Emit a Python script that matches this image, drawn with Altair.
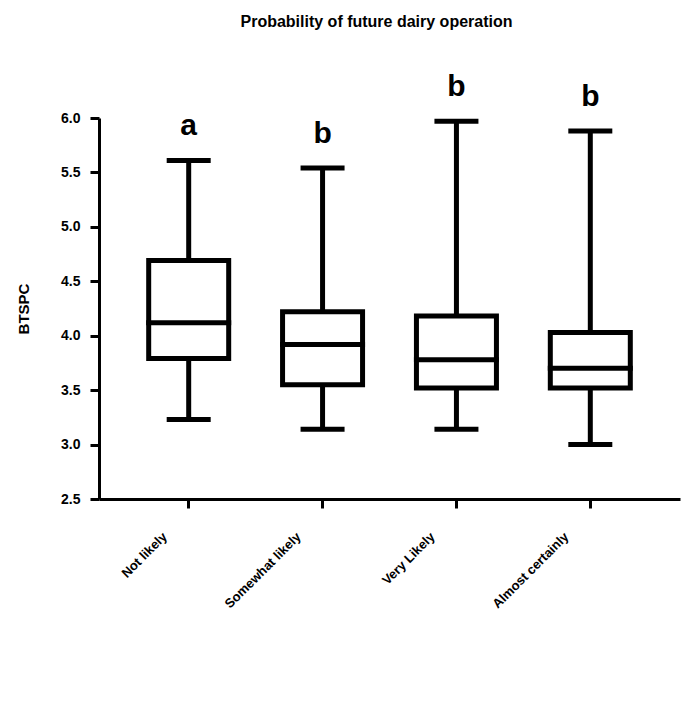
import altair as alt
import pandas as pd

categories = ["Not likely", "Somewhat likely", "Very Likely", "Almost certainly"]
lower = [3.23, 3.14, 3.14, 3.00]
q1 = [3.79, 3.55, 3.52, 3.52]
median = [4.12, 3.92, 3.78, 3.70]
q3 = [4.69, 4.22, 4.18, 4.03]
upper = [5.61, 5.54, 5.97, 5.88]
letters = ["a", "b", "b", "b"]
y_ticks = [2.5, 3.0, 3.5, 4.0, 4.5, 5.0, 5.5, 6.0]

df = pd.DataFrame({
    "cat": categories, "lower": lower, "q1": q1, "median": median,
    "q3": q3, "upper": upper, "letter": letters,
})

FONT = "Liberation Sans"

x = alt.X("cat:N", sort=categories, title=None,
          scale=alt.Scale(paddingInner=0, paddingOuter=0.17),
          axis=alt.Axis(labelAngle=-45, labelFontSize=13, labelPadding=22,
                        labelOffset=-28))
yscale = alt.Scale(domain=[2.5, 6.0], nice=False, zero=False)
yaxis = alt.Axis(values=y_ticks, format=".1f", title="BTSPC", titleFontSize=15,
                 titlePadding=29, labelFontSize=14, labelPadding=10)

base = alt.Chart(df)

whisk_lo = base.mark_rule(color="black", strokeWidth=5).encode(
    x=x, y=alt.Y("lower:Q", scale=yscale, axis=yaxis), y2="q1:Q")
whisk_hi = base.mark_rule(color="black", strokeWidth=5).encode(
    x=x, y=alt.Y("q3:Q", scale=yscale), y2="upper:Q")
box = base.mark_bar(fill="white", stroke="black", strokeWidth=5, size=80,
                    opacity=1).encode(
    x=x, y=alt.Y("q1:Q", scale=yscale), y2="q3:Q")
med = base.mark_tick(color="black", size=85, thickness=5, orient="horizontal",
                     opacity=1).encode(
    x=x, y=alt.Y("median:Q", scale=yscale))
cap_lo = base.mark_tick(color="black", size=44, thickness=5, orient="horizontal",
                        opacity=1).encode(
    x=x, y=alt.Y("lower:Q", scale=yscale))
cap_hi = base.mark_tick(color="black", size=44, thickness=5, orient="horizontal",
                        opacity=1).encode(
    x=x, y=alt.Y("upper:Q", scale=yscale))
lab = base.mark_text(font=FONT, fontWeight="bold", fontSize=30, dy=-25,
                     baseline="alphabetic", color="black").encode(
    x=x, y=alt.Y("upper:Q", scale=yscale), text="letter:N")

chart = alt.layer(whisk_lo, whisk_hi, box, med, cap_lo, cap_hi, lab).properties(
    width=581, height=381,
    autosize=alt.AutoSizeParams(type="none"),
    padding={"left": 91, "top": 110, "right": 10, "bottom": 190},
    title=alt.TitleParams("Probability of future dairy operation", font=FONT,
                          fontSize=16, fontWeight="bold", color="black",
                          anchor="middle", offset=42, dx=-13),
).configure_view(stroke=None).configure_axis(
    grid=False, domainColor="black", domainWidth=3, tickColor="black",
    tickWidth=3, tickSize=9, labelFont=FONT, labelFontWeight="bold",
    labelColor="black", titleFont=FONT, titleFontWeight="bold", titleColor="black",
)

chart.save("out.html", embed_options={"renderer": "svg", "actions": False})
